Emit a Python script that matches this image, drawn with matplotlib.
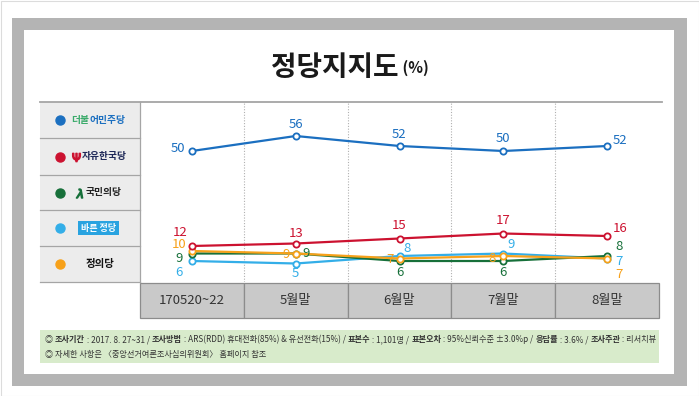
import matplotlib
matplotlib.use('Agg')
import matplotlib.pyplot as plt
from matplotlib.patches import Rectangle
import matplotlib.transforms as mtransforms

plt.rcParams['font.family'] = ['Noto Sans CJK KR', 'DejaVu Sans']

# data
periods = ['170520~22', '5월말', '6월말', '7월말', '8월말']
minju = [50, 56, 52, 50, 52]      # 더불어민주당
jayu = [12, 13, 15, 17, 16]       # 자유한국당
gukmin = [9, 9, 6, 6, 8]          # 국민의당
bareun = [6, 5, 8, 9, 7]          # 바른정당
jeongui = [10, 9, 7, 8, 7]        # 정의당

C_BLUE, C_RED, C_GREEN, C_SKY, C_ORANGE = '#1b6fc0', '#cc1230', '#17703a', '#33aee8', '#f7a11a'

# label offsets (px) for each point
off_minju = [(-14, 2), (0, 11), (0, 11), (0, 12), (13, 6)]
off_jayu = [(-12, 14), (0, 10), (0, 13), (0, 13), (13, 7)]
off_gukmin = [(-13, -5), (10, 0), (0, -11), (0, -11), (12, 10)]
off_bareun = [(-13, -11), (0, -10), (8, 7), (8, 9), (12, -3)]
off_jeongui = [(-13, 7), (-10, -1), (-10, -1), (-11, -3), (12, -16)]

W, H = 699, 396
fig = plt.figure(figsize=(W / 100, H / 100), dpi=100)
bg = fig.add_axes([0, 0, 1, 1])
bg.set_xlim(0, W)
bg.set_ylim(H, 0)
bg.axis('off')
r = fig.canvas.get_renderer()


def rect(x0, y0, x1, y1, **kw):
    bg.add_patch(Rectangle((x0, y0), x1 - x0, y1 - y0, **kw))


def runs(x, y, parts, size, ha='left', **kw):
    # draw text pieces one after another (mixed weight / colour)
    texts = []
    cx = x
    for s, extra in parts:
        props = dict(fontsize=size, va='center', ha='left')
        props.update(kw)
        props.update(extra)
        t = bg.text(cx, y, s, **props)
        cx += t.get_window_extent(renderer=r).width
        texts.append(t)
    if ha == 'center':
        shift = (cx - x) / 2
        for t in texts:
            t.set_x(t.get_position()[0] - shift)


# frame
rect(0.5, 0.5, W - 0.5, H - 0.5, fc='white', ec='#dcdcdc', lw=0.8)
rect(12, 18, 687, 386, fc='#b4b4b4', ec='none')
rect(24, 30, 674, 374, fc='white', ec='none')

# title
runs(350, 68, [('정당지지도', dict(fontsize=20)), (' (%)', dict(fontsize=11))], 20,
     ha='center', color='#1a1a1a', fontweight='bold')

# table
L, X0, X1, T, B = 40, 140, 659, 102, 282
rows = [102, 138, 175, 210, 246, 282]
rect(L, T, X0, B, fc='#ececec', ec='none')
for y in rows[1:]:
    bg.plot([L, X0], [y, y], color='#a5a5a5', lw=0.9)
bg.plot([L, 662], [T, T], color='#a5a5a5', lw=1.3)
bg.plot([X0, X0], [T, B], color='#a5a5a5', lw=0.9)

# legend column
colors = [C_BLUE, C_RED, C_GREEN, C_SKY, C_ORANGE]
centers = [(rows[i] + rows[i + 1]) / 2 for i in range(5)]
for c, yc in zip(colors, centers):
    bg.plot(60, yc, 'o', ms=6.5, color=c)
runs(98, centers[0], [('더불', dict(color='#3aaa6a')), ('어민주당', dict(color=C_BLUE))],
     7, ha='center', fontweight='bold')
bg.plot(76, centers[1], marker=r'$\Psi$', ms=6, color=C_RED)
runs(104, centers[1], [('자유한국당', dict(color='#1e2858'))], 7, ha='center', fontweight='bold')
bg.plot(79, centers[2], marker=r'$\lambda$', ms=6.5, color=C_GREEN)
runs(104, centers[2], [('국민의당', dict(color='#222222'))], 7, ha='center', fontweight='bold')
bg.text(98.5, centers[3], '바른 정당', fontsize=6.5, fontweight='bold', color='white',
        ha='center', va='center',
        bbox=dict(boxstyle='square,pad=0.3', fc='#29a3e0', ec='none'))
runs(100, centers[4], [('정의당', dict(color='#111111'))], 7.5, ha='center', fontweight='bold')

# plot area
ax = fig.add_axes([X0 / W, 1 - B / H, (X1 - X0) / W, (B - T) / H])
ax.set_xlim(-0.5, 4.5)
ax.set_ylim(-2.4, 69.6)
ax.axis('off')
for i in range(4):
    ax.axvline(i + 0.5, color='#b0b0b0', ls=(0, (1, 1.5)), lw=0.8)

xs = list(range(len(periods)))
series = [(bareun, C_SKY, off_bareun), (gukmin, C_GREEN, off_gukmin),
          (jeongui, C_ORANGE, off_jeongui), (jayu, C_RED, off_jayu),
          (minju, C_BLUE, off_minju)]
for vals, c, offs in series:
    ax.plot(xs, vals, color=c, lw=1.6, marker='o', ms=4.5, mfc='white', mec=c, mew=1.3,
            clip_on=False)
    for x, v, (dx, dy) in zip(xs, vals, offs):
        ax.annotate(str(v), (x, v), xytext=(dx, dy), textcoords='offset pixels',
                    ha='center', va='center', color=c, fontsize=9.5)

# category row
blend = mtransforms.blended_transform_factory(ax.transData, bg.transData)
for i, p in enumerate(periods):
    bg.add_patch(Rectangle((i - 0.5, 283), 1, 35, transform=blend, fc='#c9c9c9',
                           ec='#8c8c8c', lw=0.9, clip_on=False))
    bg.text(i, 300.5, p, transform=blend, ha='center', va='center', fontsize=9.5,
            color='#333333')

# footer
rect(40, 330, 659, 363, fc='#d8ebcb', ec='none')
b = dict(fontweight='bold')
n = dict()
runs(45, 339.5, [('◎ ', n), ('조사기간', b), (' : 2017. 8. 27~31 / ', n), ('조사방법', b),
                 (' : ARS(RDD) 휴대전화(85%) & 유선전화(15%) / ', n), ('표본수', b),
                 (' : 1,101명 / ', n), ('표본오차', b), (' : 95%신뢰수준 ±3.0%p / ', n),
                 ('응답률', b), (' : 3.6% / ', n), ('조사주관', b), (' : 리서치뷰', n)],
     5.9, color='#333333')
runs(45, 354, [('◎ 자세한 사항은 〈중앙선거여론조사심의위원회〉 홈페이지 참조', n)], 5.9, color='#333333')

fig.savefig('out.png', dpi=100)
